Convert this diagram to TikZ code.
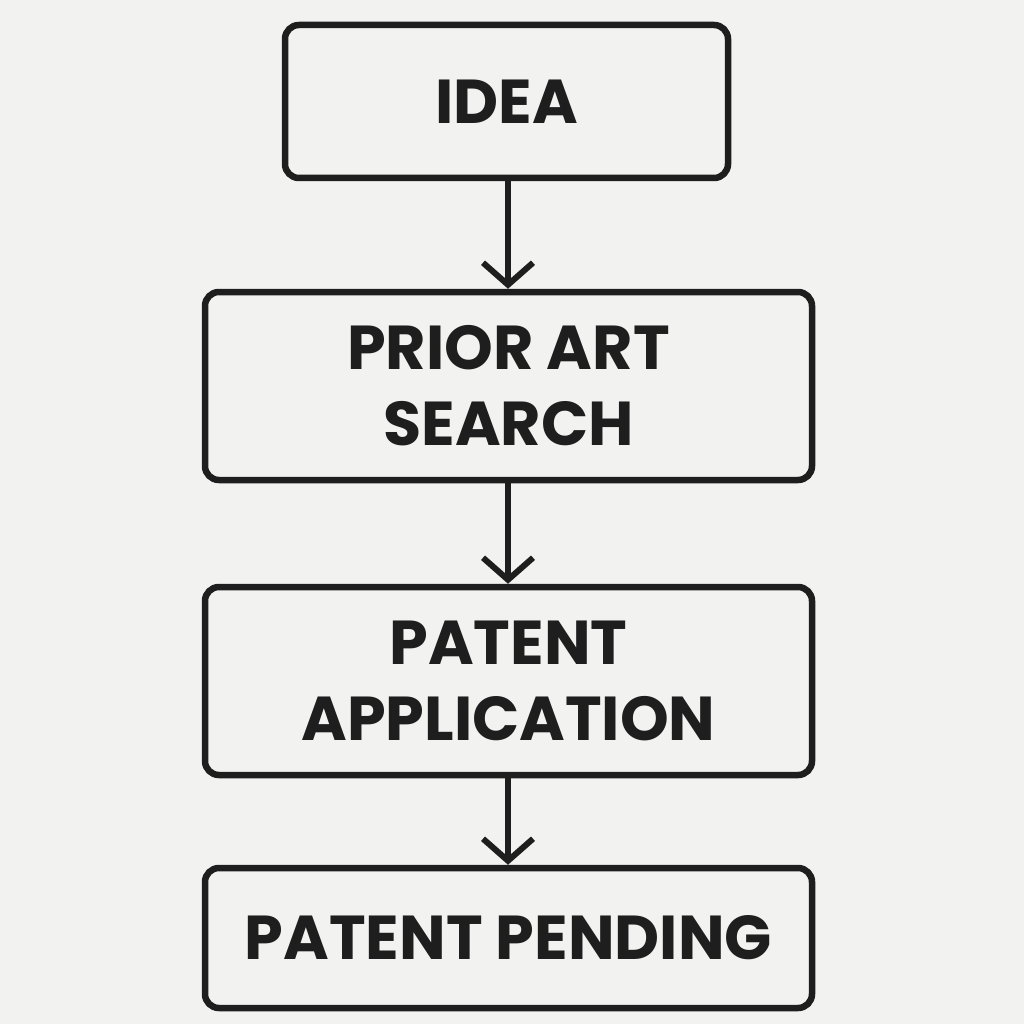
\documentclass[tikz,border=0pt]{standalone}
\usepackage{fontspec}
\setmainfont{Poppins}
\usetikzlibrary{arrows.meta}
\definecolor{bg}{HTML}{F2F2F0}
\definecolor{ink}{HTML}{1E1E1E}
\tikzset{
  box/.style={draw=ink, line width=6.5pt, rounded corners=14pt, inner sep=0pt, align=center, font=\fontsize{62}{76}\selectfont\bfseries, text=ink},
  conn/.style={draw=ink, line width=6pt, -{Straight Barb[length=22pt,width=50pt,line width=6pt]}}
}
\begin{document}
\begin{tikzpicture}[x=1pt,y=-1pt]
\fill[bg] (0,0) rectangle (1024,1024);
\useasboundingbox (0,0) rectangle (1024,1024);
\node[box, minimum width=443pt, minimum height=153pt] (idea) at (506.5,101.5) {IDEA};
\node[box, minimum width=607pt, minimum height=188pt] (search) at (508.5,386) {PRIOR ART\\SEARCH};
\node[box, minimum width=607pt, minimum height=188pt] (app) at (508.5,681) {PATENT\\APPLICATION};
\node[box, minimum width=607pt, minimum height=140pt] (pend) at (508.5,938) {PATENT PENDING};
\draw[conn] (idea.south -| 508,0) -- (search.north -| 508,0);
\draw[conn] (search.south -| 508,0) -- (app.north -| 508,0);
\draw[conn] (app.south -| 508,0) -- (pend.north -| 508,0);
\end{tikzpicture}
\end{document}
